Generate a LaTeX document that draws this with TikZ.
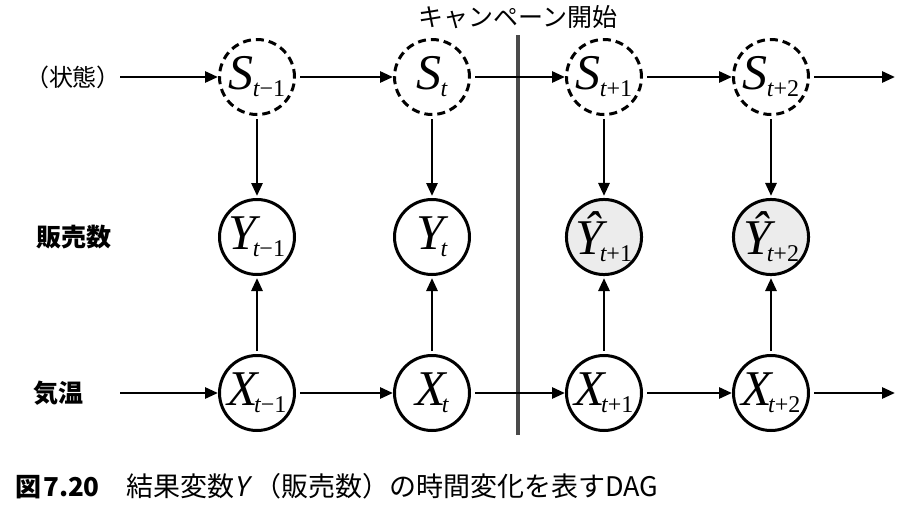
\documentclass[tikz,border=0pt]{standalone}
\usepackage{fontspec}
\usetikzlibrary{arrows.meta}
\newfontfamily\jp{Noto Sans CJK JP}
\newfontfamily\jpsl[FakeSlant=0.2]{Noto Sans CJK JP}
\newfontfamily\mvar{Liberation Serif}
\newcommand{\vv}[4][-1pt]{{\mvar\fontsize{50}{50}\selectfont\itshape #2}\kern#1\raisebox{-7pt}{\mvar\fontsize{24}{24}\selectfont\itshape #3\upshape #4}}
\definecolor{barcol}{HTML}{4A4A4A}
\tikzset{
  var/.style={circle, draw, line width=3pt, minimum size=75pt, inner sep=0pt},
  latent/.style={var, dashed, dash pattern=on 8pt off 5pt},
  pred/.style={var, fill=gray!15},
  arr/.style={line width=2.8pt, -{Triangle[length=13pt,width=11pt]}, shorten <=4pt},
  varr/.style={arr, shorten <=3pt, shorten >=2pt},
  lab/.style={font=\jp\fontsize{24}{24}\selectfont},
}
\begin{document}
\begin{tikzpicture}[x=1pt,y=-1pt]
\useasboundingbox (0,0) rectangle (922,520);
% separator
\draw[barcol, line width=4.5pt] (518,35) coordinate (bt) -- (518,435) coordinate (bb);
\node[lab, font=\jp\fontsize{25}{25}\selectfont] (camp) at (518,17) {キャンペーン開始};
% row labels
\node[lab] (ls) at (73,77) {（状態）};
\node[lab, font=\jp\bfseries\fontsize{25}{25}\selectfont] (ly) at (74,237) {販売数};
\node[lab, font=\jp\bfseries\fontsize{25}{25}\selectfont] (lx) at (59,393) {気温};
\coordinate (sin) at (120,77);
\coordinate (xin) at (120,393);
\coordinate (sout) at (895,77);
\coordinate (xout) at (895,393);
% nodes
\node[latent] (S1) at (257,77) {\vv{S}{t}{−1}};
\node[latent] (S2) at (432,77) {\vv{S}{t}{}};
\node[latent] (S3) at (604,77) {\vv{S}{t}{+1}};
\node[latent] (S4) at (771,77) {\vv{S}{t}{+2}};
\node[var] (Y1) at (257,237) {\vv[-4pt]{Y}{t}{−1}};
\node[var] (Y2) at (432,237) {\vv[-4pt]{Y}{t}{}};
\node[pred] (Y3) at (604,237) {\vv[-4pt]{Ŷ}{t}{+1}};
\node[pred] (Y4) at (771,237) {\vv[-4pt]{Ŷ}{t}{+2}};
\node[var] (X1) at (257,393) {\vv[-4pt]{X}{t}{−1}};
\node[var] (X2) at (432,393) {\vv[-4pt]{X}{t}{}};
\node[var] (X3) at (604,393) {\vv[-4pt]{X}{t}{+1}};
\node[var] (X4) at (771,393) {\vv[-4pt]{X}{t}{+2}};
% horizontal arrows
\draw[arr, shorten <=0pt] (sin) -- (S1);
\draw[arr] (S1) -- (S2);
\draw[arr] (S2) -- (S3);
\draw[arr] (S3) -- (S4);
\draw[arr] (S4) -- (sout);
\draw[arr, shorten <=0pt] (xin) -- (X1);
\draw[arr] (X1) -- (X2);
\draw[arr] (X2) -- (X3);
\draw[arr] (X3) -- (X4);
\draw[arr] (X4) -- (xout);
% vertical arrows
\foreach \i in {1,2,3,4}{
  \draw[varr] (S\i) -- (Y\i);
  \draw[varr] (X\i) -- (Y\i);
}
% caption
\node[anchor=west, inner sep=0pt] (cap) at (15,486) {{\jp\bfseries\fontsize{26}{26}\selectfont 図\kern2pt 7.20}\hspace{27pt}{\jp\fontsize{27}{27}\selectfont 結果変数{\jpsl Y}\kern5pt（販売数）の時間変化を表すDAG}};
\end{tikzpicture}
\end{document}
